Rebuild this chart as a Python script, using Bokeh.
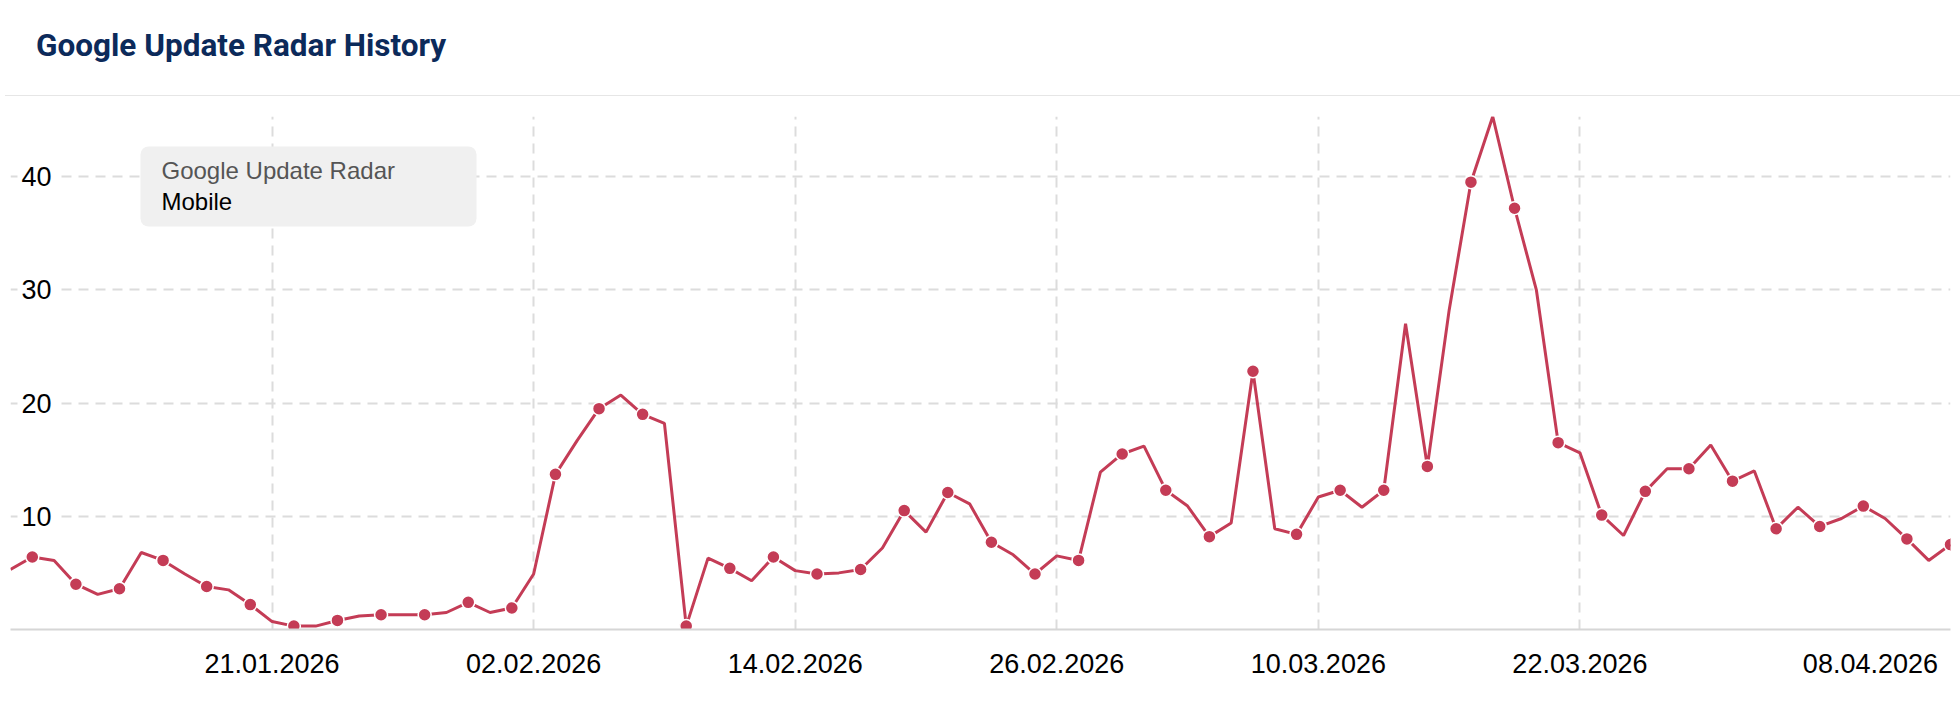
import datetime as dt
from bokeh.plotting import figure
from bokeh.models import (Range1d, FixedTicker, Label, BoxAnnotation, Div, ColumnDataSource)
from bokeh.layouts import column
from bokeh.embed import file_html
from bokeh.resources import INLINE

# ---------------- data ----------------
start_date = "09.01.2026"
values = [
    5.3, 6.4, 6.1, 4.0, 3.1, 3.6, 6.8, 6.1, 4.9, 3.8,
    3.5, 2.2, 0.7, 0.3, 0.3, 0.8, 1.2, 1.3, 1.3, 1.3,
    1.5, 2.4, 1.5, 1.9, 4.9, 13.7, 16.7, 19.5, 20.7, 19.0,
    18.2, 0.3, 6.3, 5.4, 4.3, 6.4, 5.2, 4.9, 5.0, 5.3,
    7.2, 10.5, 8.6, 12.1, 11.1, 7.7, 6.6, 4.9, 6.5, 6.1,
    13.9, 15.5, 16.2, 12.3, 10.9, 8.2, 9.4, 22.8, 8.9, 8.4,
    11.7, 12.3, 10.8, 12.3, 27.0, 14.4, 28.2, 39.5, 45.3, 37.2,
    30.0, 16.5, 15.6, 10.1, 8.3, 12.2, 14.2, 14.2, 16.3, 13.1,
    14.0, 8.9, 10.8, 9.1, 9.8, 10.9, 9.8, 8.0, 6.1, 7.5,
]
x_tick_labels = ["21.01.2026", "02.02.2026", "14.02.2026", "26.02.2026",
                 "10.03.2026", "22.03.2026", "08.04.2026"]
y_ticks = [10, 20, 30, 40]
series_title = "Google Update Radar"
series_name = "Mobile"
chart_title = "Google Update Radar History"

# ---------------- derived ----------------
d0 = dt.datetime.strptime(start_date, "%d.%m.%Y")
dates = [d0 + dt.timedelta(days=i) for i in range(len(values))]
epoch = dt.datetime(1970, 1, 1)
def ms(d):
    return (d - epoch).total_seconds() * 1000.0
xs = [ms(d) for d in dates]
tick_ms = [ms(dt.datetime.strptime(t, "%d.%m.%Y")) for t in x_tick_labels]

src_all = ColumnDataSource(dict(x=xs, y=values))
src_mark = ColumnDataSource(dict(x=xs[1::2], y=values[1::2]))

LINE = "#c43c56"
FONT = "Liberation Sans"

W = 1960
header = Div(
    text=('<div style="padding:23px 0 0 31px;font-family:Roboto;font-weight:700;'
          'font-size:31.5px;line-height:36px;color:#0c2a5a;white-space:nowrap">'
          + chart_title + '</div>'),
    width=W, height=91,
    styles={"border-bottom": "1px solid #e6e6e6", "box-sizing": "border-box",
            "background-color": "white"},
)

p = figure(width=W, height=605, x_axis_type="datetime", y_axis_location=None,
           output_backend="svg", toolbar_location=None,
           min_border_left=10, min_border_right=10, min_border_top=15,
           min_border_bottom=77)
p.x_range = Range1d(xs[0], xs[-1])
p.y_range = Range1d(0, max(values))
p.outline_line_color = None
p.background_fill_color = "white"
p.border_fill_color = "white"

# grids
p.xgrid.ticker = FixedTicker(ticks=tick_ms)
p.ygrid.ticker = FixedTicker(ticks=y_ticks)
for g in (p.xgrid, p.ygrid):
    g.grid_line_color = "#dcdcdc"
    g.grid_line_width = 2
    g.grid_line_dash = "10 7"

# x axis
ax = p.xaxis[0]
ax.ticker = FixedTicker(ticks=tick_ms)
overrides = {t: lab for t, lab in zip(tick_ms, x_tick_labels)}
# last label is pushed inside the canvas; small padding keeps it off the edge
overrides[tick_ms[-1]] = x_tick_labels[-1] + "\u00a0" * 3
ax.major_label_overrides = overrides
ax.axis_line_color = "#d6d6d6"
ax.axis_line_width = 2
ax.major_tick_line_color = None
ax.minor_tick_line_color = None
ax.major_tick_out = 0
ax.major_label_standoff = 19
ax.major_label_text_font = FONT
ax.major_label_text_font_size = "27px"
ax.major_label_text_color = "#000000"

# y labels inside the plot
for v in y_ticks:
    p.add_layout(Label(x=xs[0], y=v, x_offset=7, text=str(v),
                       text_align="left", text_baseline="middle",
                       text_font=FONT, text_font_size="27px",
                       text_color="#000000", background_fill_color="white",
                       padding=4))

# series
p.line("x", "y", source=src_all, line_color=LINE, line_width=3)
p.scatter("x", "y", source=src_mark, size=13, fill_color=LINE,
          line_color="white", line_width=1.5)

# legend-like box
p.add_layout(BoxAnnotation(left=130, right=466, top=483, bottom=403,
                           left_units="screen", right_units="screen",
                           top_units="screen", bottom_units="screen",
                           fill_color="#f0f0f0", fill_alpha=1.0,
                           line_color=None, border_radius=8))
p.add_layout(Label(x=151, y=459, x_units="screen", y_units="screen",
                   text=series_title, text_baseline="middle",
                   text_font=FONT, text_font_size="24px", text_color="#555555"))
p.add_layout(Label(x=151, y=428, x_units="screen", y_units="screen",
                   text=series_name, text_baseline="middle",
                   text_font=FONT, text_font_size="24px", text_color="#000000"))

layout = column(header, p)
open("out.html", "w").write(file_html(layout, INLINE))
